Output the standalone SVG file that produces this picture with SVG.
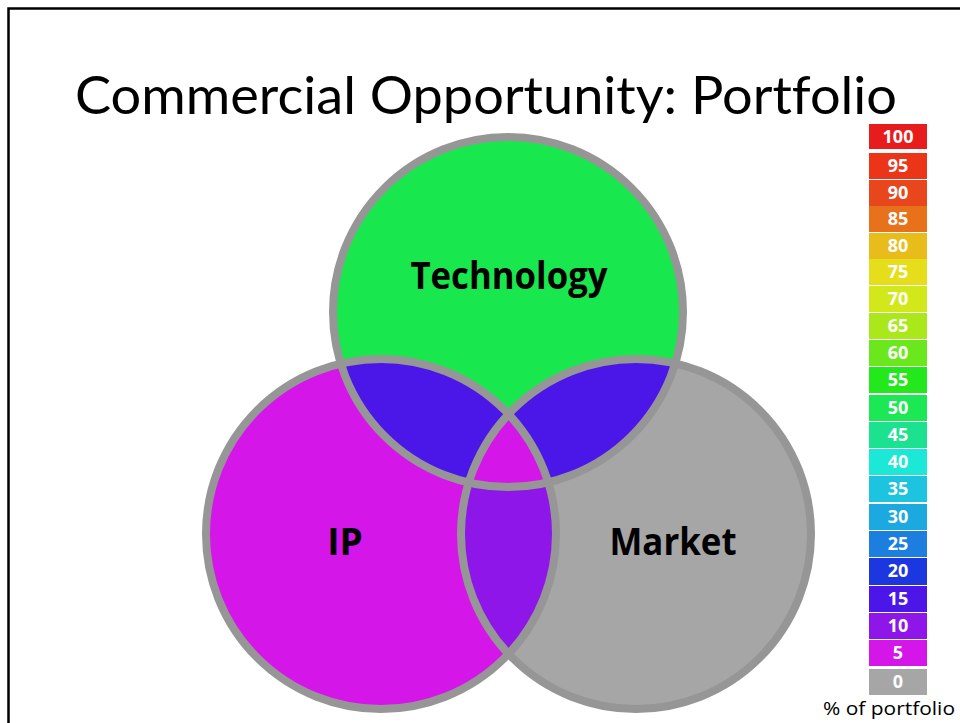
<svg xmlns="http://www.w3.org/2000/svg" width="960" height="723" viewBox="0 0 960 723">
<style>
.title{font-family:Lato,"Open Sans","Liberation Sans",sans-serif;font-size:53px;fill:#000;font-variant-ligatures:none}
.lbl{font-family:"Open Sans","Liberation Sans",sans-serif;font-weight:bold;fill:#000;text-anchor:middle}
.leg text{font-family:"Open Sans","Liberation Sans",Arial,sans-serif;font-weight:bold;font-size:18px;fill:#fff;text-anchor:middle}
.ring{fill:none;stroke:#969696;stroke-width:8}
.cap{font-family:"Open Sans","Liberation Sans",sans-serif;font-size:19px;fill:#000}
</style>
<defs>
<clipPath id="cT"><circle cx="508" cy="312" r="175"/></clipPath>
<clipPath id="cI"><circle cx="381" cy="534" r="175"/></clipPath>
<clipPath id="cM"><circle cx="636" cy="534" r="175"/></clipPath>
</defs>
<rect x="0" y="0" width="960" height="723" fill="#fff"/>
<rect x="8.5" y="8.5" width="1000" height="1000" fill="none" stroke="#000" stroke-width="2.5"/>
<text class="title" x="75" y="114" textLength="822" lengthAdjust="spacingAndGlyphs">Commercial Opportunity: Portfolio</text>

<g id="venn">
<g id="technology"><circle cx="508" cy="312" r="175" fill="#18E84E"/></g>
<g id="ip"><circle cx="381" cy="534" r="175" fill="#D516E8"/></g>
<g id="market"><circle cx="636" cy="534" r="175" fill="#A6A6A6"/></g>
<g id="tech-ip" clip-path="url(#cT)"><circle cx="381" cy="534" r="175" fill="#4B16E8"/></g>
<g id="tech-market" clip-path="url(#cT)"><circle cx="636" cy="534" r="175" fill="#4B16E8"/></g>
<g id="ip-market" clip-path="url(#cI)"><circle cx="636" cy="534" r="175" fill="#8E16E8"/></g>
<g id="all-three" clip-path="url(#cT)"><g clip-path="url(#cI)"><circle cx="636" cy="534" r="175" fill="#D516E8"/></g></g>
<g id="rings">
<circle class="ring" cx="508" cy="312" r="175"/>
<circle class="ring" cx="381" cy="534" r="175"/>
<circle class="ring" cx="636" cy="534" r="175"/>
</g>
<text class="lbl" x="509" y="289" font-size="37" textLength="197" lengthAdjust="spacingAndGlyphs">Technology</text>
<text class="lbl" x="345" y="555" font-size="37">IP</text>
<text class="lbl" x="673" y="555" font-size="37" textLength="127" lengthAdjust="spacingAndGlyphs">Market</text>
</g>

<g id="legend" class="leg">
<rect x="869" y="124" width="58" height="25" fill="#E81C1C"/><text x="898" y="143">100</text>
<rect x="869" y="153" width="58" height="26" fill="#EB3418"/><text x="898" y="172">95</text>
<rect x="869" y="180" width="58" height="26" fill="#E8461D"/><text x="898" y="199">90</text>
<rect x="869" y="206" width="58" height="26" fill="#E8711B"/><text x="898" y="225">85</text>
<rect x="869" y="233" width="58" height="26" fill="#E8BC1A"/><text x="898" y="252">80</text>
<rect x="869" y="259" width="58" height="26" fill="#E6DD1B"/><text x="898" y="278">75</text>
<rect x="869" y="286" width="58" height="26" fill="#D3E81B"/><text x="898" y="305">70</text>
<rect x="869" y="313" width="58" height="26" fill="#ABE81B"/><text x="898" y="332">65</text>
<rect x="869" y="340" width="58" height="26" fill="#6BE81D"/><text x="898" y="359">60</text>
<rect x="869" y="367" width="58" height="26" fill="#23E81C"/><text x="898" y="386">55</text>
<rect x="869" y="395" width="58" height="26" fill="#1CE855"/><text x="898" y="414">50</text>
<rect x="869" y="422" width="58" height="26" fill="#1CE28F"/><text x="898" y="441">45</text>
<rect x="869" y="449" width="58" height="26" fill="#1CE8D8"/><text x="898" y="468">40</text>
<rect x="869" y="476" width="58" height="26" fill="#1CC4E0"/><text x="898" y="495">35</text>
<rect x="869" y="504" width="58" height="26" fill="#1CA9E0"/><text x="898" y="523">30</text>
<rect x="869" y="531" width="58" height="26" fill="#1C7FE0"/><text x="898" y="550">25</text>
<rect x="869" y="558" width="58" height="27" fill="#1C37E0"/><text x="898" y="577">20</text>
<rect x="869" y="586" width="58" height="26" fill="#4C16E8"/><text x="898" y="605">15</text>
<rect x="869" y="613" width="58" height="26" fill="#8E16E8"/><text x="898" y="632">10</text>
<rect x="869" y="640" width="58" height="26" fill="#D416E8"/><text x="898" y="659">5</text>
<rect x="869" y="669" width="58" height="26" fill="#A6A6A6"/><text x="898" y="688">0</text>
</g>
<text class="cap" x="823" y="715" textLength="132" lengthAdjust="spacingAndGlyphs">% of portfolio</text>
</svg>
